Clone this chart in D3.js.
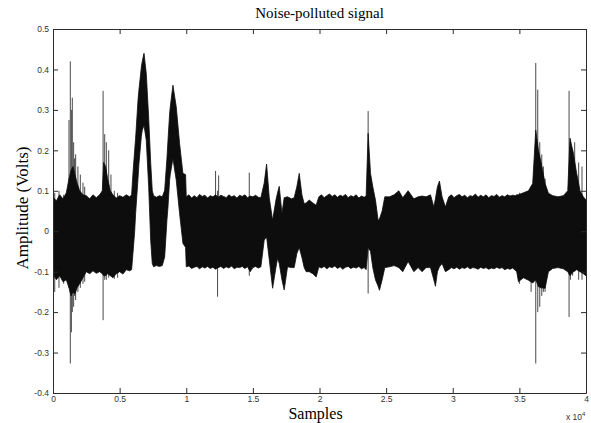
<!DOCTYPE html>
<html>
<head>
<meta charset="utf-8">
<script src="https://cdn.jsdelivr.net/npm/d3@7"></script>
<style>
  body { margin: 0; background: #fff; }
  svg { display: block; }
</style>
</head>
<body>
<svg id="chart"></svg>
<script>
// envelope of the noisy trace: sample index, upper and lower amplitude (volts)
// one line per stretch of the record so the three arrays stay aligned
const sampleGrid = [
  0, 250, 500, 750, 1000, 1200, 1350, 1500, 1650, 1800, 2000, 2250, 2500, 2750, 3000, 3250, 3500, 3700, 3800, 3950, 4100, 4300, 4500, 4750, 5000, 5250, 5500, 5750, 5900,
  6000, 6130, 6200, 6380, 6450, 6630, 6700, 6830, 7000, 7180, 7330, 7450, 7550, 7750, 8000, 8200, 8380, 8550, 8630, 8750, 8800, 9000, 9250, 9500, 9750, 9950,
  10000, 10200, 10400, 10600, 10800, 11000, 11200, 11400, 11600, 11800, 12000, 12200, 12400, 12600, 12800, 13000, 13200, 13400, 13600, 13800, 14000, 14200, 14400, 14600, 14800, 15000, 15200, 15400, 15600,
  15850, 16030, 16230, 16480, 16730, 16850, 16980, 17180, 17350, 17600, 17900, 18100, 18300, 18480, 18680, 18850, 19000, 19230, 19500, 19750,
  19950, 20150, 20350, 20550, 20750, 20950, 21150, 21350, 21550, 21750, 21950, 22150, 22350, 22550, 22750, 22950, 23150, 23350, 23500,
  23650, 23830, 24000, 24200, 24400, 24500, 24700, 24900, 25250, 25600, 25950, 26250, 26650, 27080, 27400, 27700, 28000, 28330, 28580, 28700, 28850, 29000, 29200, 29450,
  29700, 29900, 30100, 30300, 30500, 30700, 30900, 31100, 31300, 31500, 31700, 31900, 32100, 32300, 32500, 32700, 32900, 33100, 33300, 33500, 33700, 33900, 34100, 34300, 34500, 34700, 34800,
  34930, 35300, 35680, 36000, 36230, 36430, 36630, 36930, 37180, 37500, 37900, 38300, 38630, 38800, 39050, 39300, 39550, 39800, 40000
];
const upperEnv = [
  0.085, 0.075, 0.09, 0.08, 0.095, 0.13, 0.15, 0.16, 0.14, 0.12, 0.1, 0.09, 0.088, 0.08, 0.09, 0.083, 0.09, 0.1, 0.17, 0.16, 0.13, 0.1, 0.09, 0.082, 0.088, 0.084, 0.09, 0.085, 0.09,
  0.143, 0.2, 0.23, 0.324, 0.35, 0.406, 0.42, 0.44, 0.39, 0.28, 0.17, 0.1, 0.088, 0.084, 0.088, 0.085, 0.101, 0.18, 0.225, 0.29, 0.307, 0.361, 0.307, 0.217, 0.143, 0.14,
  0.085, 0.09, 0.082, 0.088, 0.083, 0.091, 0.086, 0.089, 0.082, 0.088, 0.085, 0.09, 0.084, 0.089, 0.086, 0.083, 0.09, 0.085, 0.088, 0.082, 0.089, 0.086, 0.09, 0.083, 0.087, 0.085, 0.089, 0.084, 0.083,
  0.119, 0.166, 0.083, 0.027, 0.077, 0.095, 0.111, 0.044, 0.083, 0.085, 0.08, 0.083, 0.11, 0.143, 0.09, 0.068, 0.07, 0.077, 0.07, 0.064,
  0.085, 0.09, 0.083, 0.088, 0.092, 0.086, 0.09, 0.084, 0.089, 0.086, 0.091, 0.083, 0.088, 0.085, 0.09, 0.082, 0.087, 0.084, 0.087,
  0.242, 0.143, 0.11, 0.077, 0.027, 0.03, 0.05, 0.085, 0.085, 0.09, 0.1, 0.083, 0.1, 0.08, 0.085, 0.087, 0.085, 0.09, 0.06, 0.08, 0.11, 0.124, 0.085, 0.06,
  0.085, 0.09, 0.083, 0.088, 0.091, 0.085, 0.089, 0.083, 0.088, 0.086, 0.092, 0.084, 0.089, 0.085, 0.09, 0.083, 0.088, 0.086, 0.091, 0.084, 0.088, 0.085, 0.09, 0.087, 0.089, 0.088, 0.09,
  0.09, 0.095, 0.1, 0.118, 0.25, 0.2, 0.17, 0.118, 0.094, 0.088, 0.085, 0.088, 0.1, 0.23, 0.193, 0.143, 0.1, 0.085, 0.077
];
const lowerEnv = [
  -0.105, -0.12, -0.11, -0.125, -0.12, -0.14, -0.16, -0.15, -0.155, -0.14, -0.13, -0.115, -0.1, -0.105, -0.098, -0.104, -0.1, -0.105, -0.11, -0.11, -0.105, -0.11, -0.115, -0.105, -0.1, -0.106, -0.095, -0.098, -0.095,
  -0.055, 0.0, 0.044, 0.13, 0.167, 0.235, 0.25, 0.262, 0.225, 0.11, -0.022, -0.08, -0.088, -0.085, -0.087, -0.085, -0.064, 0.027, 0.06, 0.126, 0.14, 0.18, 0.126, 0.044, -0.03, -0.04,
  -0.088, -0.086, -0.092, -0.089, -0.087, -0.093, -0.088, -0.091, -0.087, -0.092, -0.089, -0.094, -0.09, -0.087, -0.092, -0.088, -0.091, -0.086, -0.093, -0.089, -0.09, -0.087, -0.092, -0.088, -0.1, -0.09, -0.087, -0.091, -0.088,
  -0.022, -0.014, -0.07, -0.141, -0.09, -0.067, -0.08, -0.12, -0.145, -0.088, -0.09, -0.09, -0.055, -0.04, -0.065, -0.09, -0.1, -0.1, -0.105, -0.113,
  -0.088, -0.091, -0.087, -0.093, -0.088, -0.09, -0.086, -0.092, -0.088, -0.094, -0.089, -0.087, -0.092, -0.089, -0.091, -0.087, -0.093, -0.09, -0.095,
  -0.04, -0.05, -0.09, -0.12, -0.136, -0.146, -0.12, -0.09, -0.088, -0.085, -0.09, -0.1, -0.075, -0.1, -0.09, -0.1, -0.09, -0.09, -0.12, -0.136, -0.1, -0.088, -0.08, -0.1,
  -0.095, -0.09, -0.093, -0.089, -0.094, -0.09, -0.092, -0.088, -0.093, -0.09, -0.091, -0.094, -0.089, -0.092, -0.09, -0.094, -0.091, -0.093, -0.089, -0.092, -0.09, -0.095, -0.092, -0.094, -0.091, -0.097, -0.1,
  -0.125, -0.115, -0.121, -0.128, -0.12, -0.137, -0.14, -0.141, -0.1, -0.092, -0.09, -0.093, -0.1, -0.11, -0.1, -0.095, -0.1, -0.105, -0.11
];

// isolated impulses that stick out of the envelope
const spikeSamples = [130, 450, 800, 1200, 1300, 1380, 1450, 1550, 1620, 1700, 1870, 2050, 2250, 2380, 3760, 3880, 4000, 4180, 4350, 4600, 4850, 12200, 12350, 12430, 14730, 23650, 35000, 35880, 36230, 36380, 36530, 36680, 36800, 36930, 38730, 38830, 39000, 39150, 39450, 39700];
const spikeTops = [0.095, 0.1, 0.09, 0.275, 0.42, 0.3, 0.33, 0.22, 0.18, 0.19, 0.16, 0.14, 0.12, 0.11, 0.347, 0.24, 0.22, 0.2, 0.14, 0.1, 0.095, 0.149, 0.1, 0.138, 0.145, 0.297, 0.095, 0.11, 0.416, 0.35, 0.22, 0.19, 0.16, 0.13, 0.347, 0.22, 0.2, 0.22, 0.17, 0.16];
const spikeBottoms = [-0.15, -0.14, -0.13, -0.14, -0.327, -0.25, -0.2, -0.187, -0.16, -0.17, -0.15, -0.14, -0.13, -0.125, -0.22, -0.12, -0.12, -0.115, -0.11, -0.118, -0.115, -0.09, -0.162, -0.09, -0.11, -0.154, -0.13, -0.15, -0.327, -0.2, -0.187, -0.16, -0.15, -0.15, -0.212, -0.12, -0.11, -0.1, -0.12, -0.12];

// axes
const xTicks = [0, 5000, 10000, 15000, 20000, 25000, 30000, 35000, 40000];
const xTickLabels = ["0", "0.5", "1", "1.5", "2", "2.5", "3", "3.5", "4"];
const yTicks = [-0.4, -0.3, -0.2, -0.1, 0, 0.1, 0.2, 0.3, 0.4, 0.5];
const yTickLabels = ["-0.4", "-0.3", "-0.2", "-0.1", "0", "0.1", "0.2", "0.3", "0.4", "0.5"];

const width = 591;
const height = 423;
const margin = { top: 29, right: 5, bottom: 30, left: 53 };
const innerW = width - margin.left - margin.right;
const innerH = height - margin.top - margin.bottom;

const svg = d3.select("#chart").attr("width", width).attr("height", height);
const g = svg.append("g").attr("transform", `translate(${margin.left},${margin.top})`);

const x = d3.scaleLinear().domain([0, 40000]).range([0, innerW]);
const y = d3.scaleLinear().domain([-0.4, 0.5]).range([innerH, 0]);

g.append("clipPath").attr("id", "plotClip")
  .append("rect").attr("width", innerW).attr("height", innerH);

const plot = g.append("g").attr("clip-path", "url(#plotClip)");

// single-sample spikes first, the band covers their middle part
plot.selectAll("line.spike")
  .data(spikeSamples.map((s, i) => ({ s, top: spikeTops[i], bot: spikeBottoms[i] })))
  .join("line")
  .attr("class", "spike")
  .attr("x1", d => x(d.s))
  .attr("x2", d => x(d.s))
  .attr("y1", d => y(d.top))
  .attr("y2", d => y(d.bot))
  .attr("stroke", "#4a4a4a")
  .attr("stroke-width", 1);

// filled band of the noisy signal
const envelope = sampleGrid.map((s, i) => ({ s, hi: upperEnv[i], lo: lowerEnv[i] }));
const area = d3.area()
  .x(d => x(d.s))
  .y0(d => y(d.lo))
  .y1(d => y(d.hi));

plot.append("path")
  .datum(envelope)
  .attr("fill", "#0d0d0d")
  .attr("stroke", "#0d0d0d")
  .attr("stroke-width", 0.8)
  .attr("d", area);

// matlab style axes: ticks pointing inwards on all four sides
const tickLen = 5;
const axisColor = "#2b2b2b";

const bottomAxis = g.append("g")
  .attr("transform", `translate(0,${innerH})`)
  .call(d3.axisBottom(x).tickValues(xTicks).tickSize(-tickLen).tickSizeOuter(0).tickPadding(3)
    .tickFormat((d, i) => xTickLabels[i]));

const leftAxis = g.append("g")
  .call(d3.axisLeft(y).tickValues(yTicks).tickSize(-tickLen).tickSizeOuter(0).tickPadding(4)
    .tickFormat((d, i) => yTickLabels[i]));

const topAxis = g.append("g")
  .call(d3.axisTop(x).tickValues(xTicks).tickSize(-tickLen).tickSizeOuter(0).tickFormat(""));

const rightAxis = g.append("g")
  .attr("transform", `translate(${innerW},0)`)
  .call(d3.axisRight(y).tickValues(yTicks).tickSize(-tickLen).tickSizeOuter(0).tickFormat(""));

[bottomAxis, leftAxis, topAxis, rightAxis].forEach(a => {
  a.select(".domain").attr("stroke", axisColor);
  a.selectAll(".tick line").attr("stroke", axisColor);
  a.selectAll(".tick text")
    .attr("fill", "#333")
    .style("font-family", "'Liberation Sans', Arial, sans-serif")
    .style("font-size", "8.5px");
});

// exponent note under the right end of the x axis
const expo = g.append("text")
  .attr("x", innerW - 20)
  .attr("y", innerH + 27)
  .attr("fill", "#333")
  .style("font-family", "'Liberation Sans', Arial, sans-serif")
  .style("font-size", "8.5px");
expo.append("tspan").text("x 10");
expo.append("tspan").attr("dy", -4).style("font-size", "6px").text("4");

// titles
const serif = "'Liberation Serif', 'Times New Roman', serif";

svg.append("text")
  .attr("x", margin.left + innerW / 2)
  .attr("y", 18)
  .attr("text-anchor", "middle")
  .style("font-family", serif)
  .style("font-size", "15px")
  .text("Noise-polluted signal");

svg.append("text")
  .attr("x", margin.left + innerW / 2 - 4)
  .attr("y", 419)
  .attr("text-anchor", "middle")
  .style("font-family", serif)
  .style("font-size", "16px")
  .text("Samples");

svg.append("text")
  .attr("transform", `translate(28,${margin.top + innerH / 2 - 3}) rotate(-90)`)
  .attr("text-anchor", "middle")
  .style("font-family", serif)
  .style("font-size", "17px")
  .text("Amplitude (Volts)");
</script>
</body>
</html>
